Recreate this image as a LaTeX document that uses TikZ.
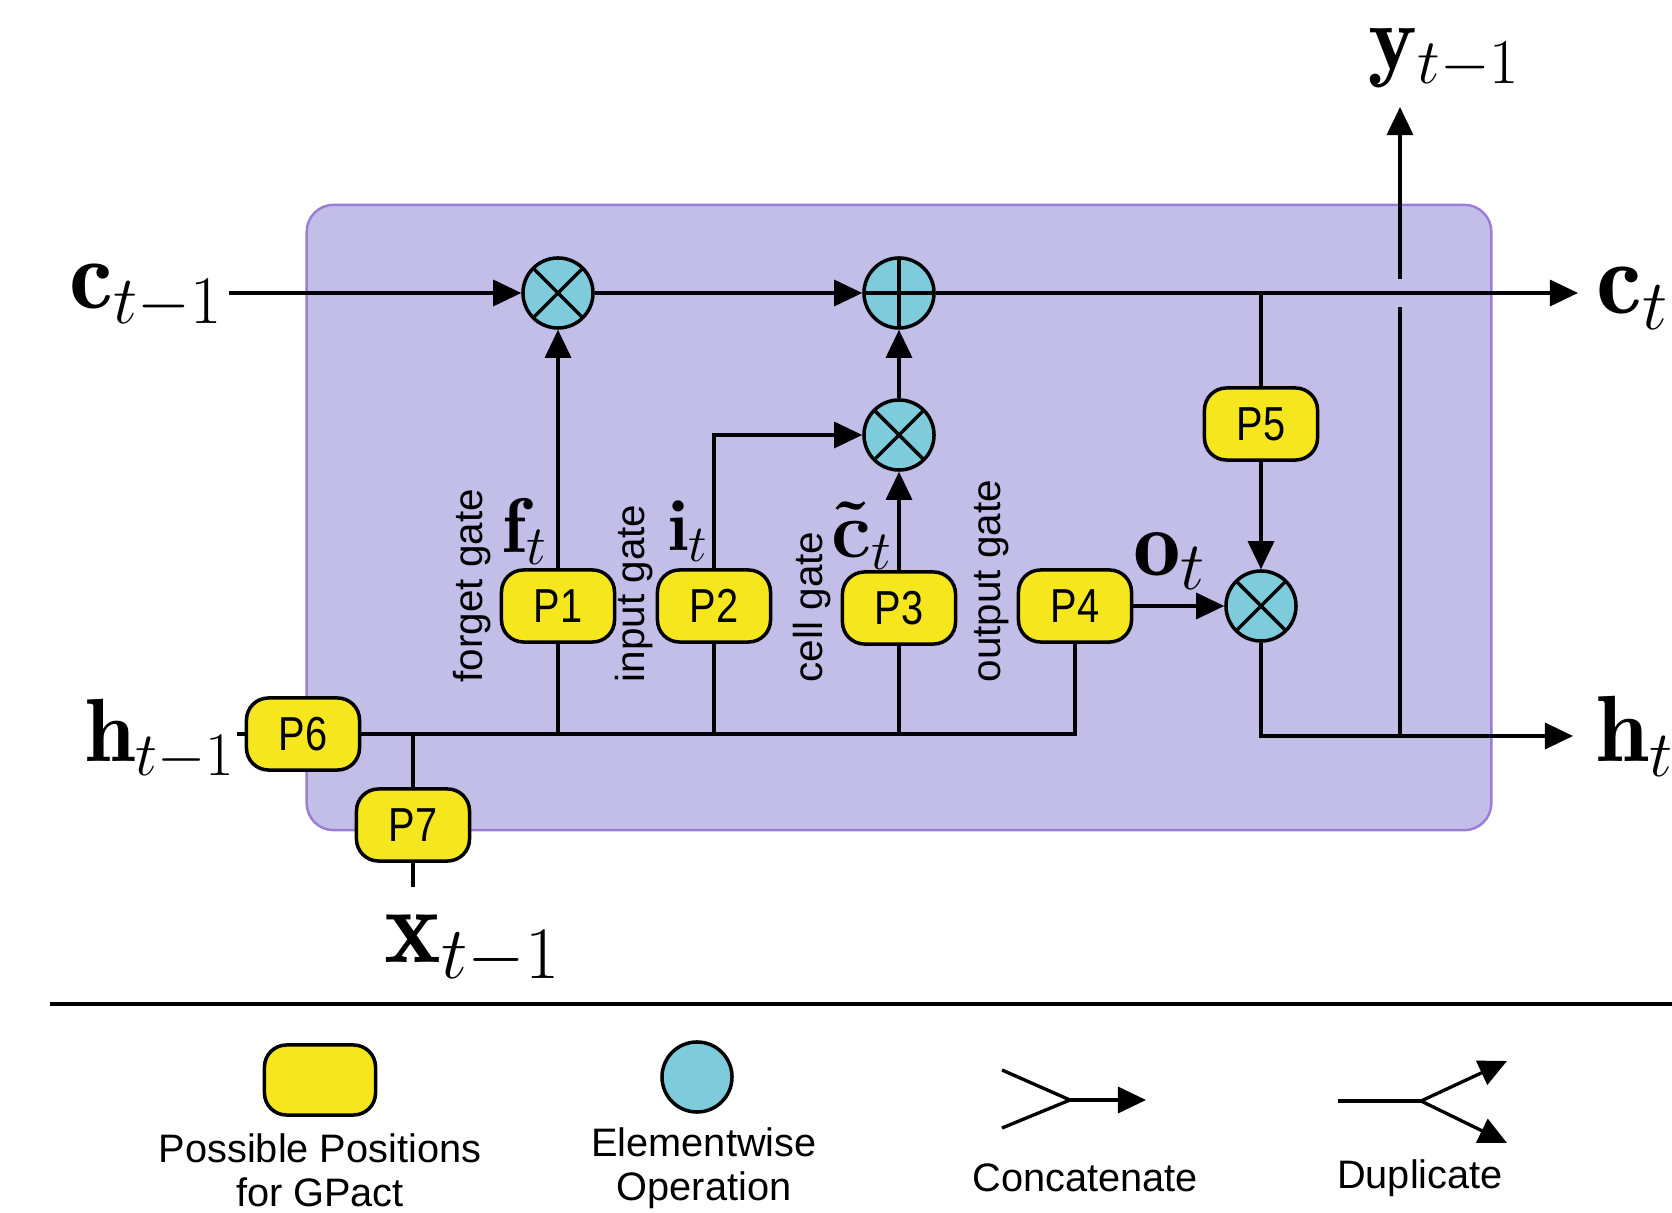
\documentclass[tikz,border=0pt]{standalone}
\usepackage{fontspec}
\newfontfamily\arialf{Liberation Sans}
\usetikzlibrary{arrows.meta,shapes.geometric}
\definecolor{boxfill}{HTML}{C3BEE8}
\definecolor{boxline}{HTML}{9B7DD7}
\definecolor{gpyellow}{HTML}{F6E61E}
\definecolor{opcyan}{HTML}{7ECBDC}
\newcommand\pl[1]{\scalebox{1}[1.2]{#1}}
\newcommand\sm[2]{\scalebox{#1}{$#2$}}
\begin{document}
\begin{tikzpicture}[x=0.01cm,y=-0.01cm,
  conn/.style={line width=0.95pt},
  arr/.style={conn,-{Triangle[length=0.28cm,width=0.26cm]}},
  pbox/.style={draw,line width=1pt,fill=gpyellow,rounded corners=0.22cm,minimum width=1.13cm,minimum height=0.72cm,inner sep=0pt,font=\arialf\fontsize{11.3}{13}\selectfont},
  op/.style={circle,draw,line width=1pt,fill=opcyan,minimum size=0.7cm,inner sep=0pt},
  times/.style={op,path picture={\draw[line width=1pt] (path picture bounding box.north west)--(path picture bounding box.south east) (path picture bounding box.north east)--(path picture bounding box.south west);}},
  plus/.style={op,path picture={\draw[line width=1pt] (path picture bounding box.north)--(path picture bounding box.south) (path picture bounding box.west)--(path picture bounding box.east);}},
  bigm/.style={inner sep=0pt,font=\fontsize{25}{30}\selectfont},
  smallm/.style={inner sep=0pt,font=\fontsize{20}{24}\selectfont},
  gatel/.style={rotate=90,anchor=west,inner sep=0pt,font=\arialf\fontsize{11.5}{13}\selectfont},
  legt/.style={align=center,inner sep=0pt,font=\arialf\fontsize{11.3}{12.5}\selectfont}
]
\useasboundingbox (0,0) rectangle (1672,1213);
% cell box
\node[draw=boxline,line width=0.7pt,fill=boxfill,rounded corners=0.27cm,minimum width=11.84cm,minimum height=6.25cm,inner sep=0pt] (cell) at (899,517.5) {};

% operators
\node[times] (m1) at (558,293) {};
\node[plus] (add) at (899,293) {};
\node[times] (m2) at (899,435) {};
\node[times] (m3) at (1261,606) {};

% GPact positions
\node[pbox] (P1) at (558,606) {\pl{P1}};
\node[pbox] (P2) at (714,606) {\pl{P2}};
\node[pbox] (P3) at (899,608) {\pl{P3}};
\node[pbox] (P4) at (1075,606) {\pl{P4}};
\node[pbox] (P5) at (1261,424) {\pl{P5}};
\node[pbox] (P6) at (303,734) {\pl{P6}};
\node[pbox] (P7) at (413,825) {\pl{P7}};

% coordinates
\coordinate (cin) at (229,293);
\coordinate (cout) at (1578,293);
\coordinate (hin) at (237,734);
\coordinate (hout) at (1573,736);
\coordinate (xin) at (413,887);
\coordinate (j5) at (1261,293);
\coordinate (jy) at (1400,736);
\coordinate (gapB) at (1400,307);
\coordinate (gapT) at (1400,279);
\coordinate (ytop) at (1400,107);

% labels
\node[bigm,anchor=base west] (lcin) at (69,309) {\sm{1.12}{\mathbf{c}_{t-1}}};
\node[bigm,anchor=base west] (lcout) at (1596,314) {\sm{1.17}{\mathbf{c}_{t}}};
\node[bigm,anchor=base west] (lhin) at (85,762) {\sm{1.02}{\mathbf{h}_{t-1}}};
\node[bigm,anchor=base west] (lhout) at (1596,762) {\sm{1.07}{\mathbf{h}_{t}}};
\node[bigm,anchor=base west] (lxin) at (384,962) {\sm{1.22}{\mathbf{x}_{t-1}}};
\node[bigm,anchor=base west] (ly) at (1368,70) {\sm{1.05}{\mathbf{y}_{t-1}}};

\node[smallm] (lf) at (525,531) {\sm{1.1}{\mathbf{f}_t}};
\node[smallm] (li) at (689,531) {\sm{1.03}{\mathbf{i}_t}};
\node[smallm] (lc) at (862,536) {\sm{1.1}{\mbox{\boldmath$\tilde{\mathbf{c}}$}_t}};
\node[smallm] (lo) at (1170,561) {\sm{1.35}{\mathbf{o}_t}};

\node[gatel] (gf) at (472,683) {forget gate};
\node[gatel] (gi) at (634,683) {input gate};
\node[gatel] (gc) at (812,683) {cell gate};
\node[gatel] (go) at (992,683) {output gate};

% cell state path
\draw[arr] (cin) -- (m1.west);
\draw[arr] (m1.east) -- (add.west);
\draw[arr] (add.east) -- (cout);
\draw[arr] (m2.north) -- (add.south);

% gates
\draw[arr] (P1.north) -- (m1.south);
\draw[arr] (P2.north) |- (m2.west);
\draw[arr] (P3.north) -- (m2.south);
\draw[arr] (P4.east) -- (m3.west);
\draw[conn] (j5) -- (P5.north);
\draw[arr] (P5.south) -- (m3.north);

% input bus
\draw[conn] (hin) -- (P6.west);
\draw[conn] (P6.east) -| (P4.south);
\draw[conn] (P1.south) -- (P1.south |- P6.east);
\draw[conn] (P2.south) -- (P2.south |- P6.east);
\draw[conn] (P3.south) -- (P3.south |- P6.east);
\draw[conn] (P7.north) -- (P7.north |- P6.east);
\draw[conn] (P7.south) -- (xin);

% output
\draw[arr] (m3.south) |- (hout);
\draw[conn] (jy) -- (gapB);
\draw[arr] (gapT) -- (ytop);

% divider
\coordinate (dl) at (50,1004);
\coordinate (dr) at (1672,1004);
\draw[line width=1.2pt] (dl) -- (dr);

% legend
\node[pbox,minimum width=1.11cm,minimum height=0.70cm] (lgp) at (320,1080) {};
\node[legt] (lgpt) at (320,1170) {Possible Positions\\for GPact};
\node[op,minimum size=0.70cm] (lgo) at (697,1077) {};
\node[legt] (lgot) at (704,1168) {Elementwise\\Operation};

\coordinate (ca) at (1002,1070);
\coordinate (cb) at (1002,1128);
\coordinate (cm) at (1070,1100);
\coordinate (ct) at (1146,1100);
\draw[conn] (ca) -- (cm) -- (cb);
\draw[arr] (cm) -- (ct);
\node[legt] (lgc) at (1085,1178) {Concatenate};

\coordinate (da) at (1338,1101);
\coordinate (dm) at (1421,1101);
\coordinate (du) at (1507,1061);
\coordinate (dd) at (1507,1143);
\draw[conn] (da) -- (dm);
\draw[arr] (dm) -- (du);
\draw[arr] (dm) -- (dd);
\node[legt] (lgd) at (1420,1178) {Duplicate};
\end{tikzpicture}
\end{document}
